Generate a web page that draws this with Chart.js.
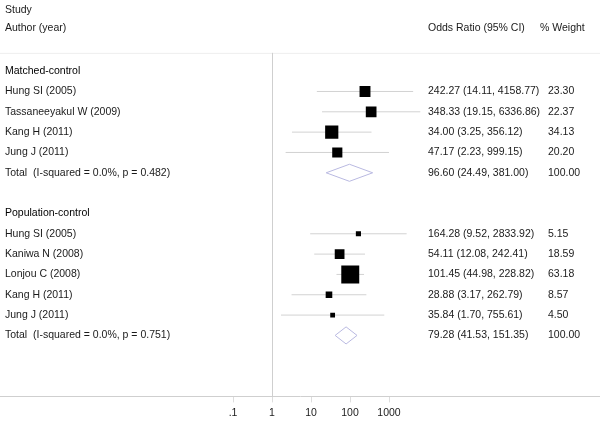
<!DOCTYPE html>
<html>
<head>
<meta charset="utf-8">
<script src="https://cdn.jsdelivr.net/npm/chart.js@4"></script>
<style>
  body { margin: 0; background: #fff; }
  #wrap { width: 600px; height: 425px; }
</style>
</head>
<body>
<div id="wrap"><canvas id="forestChart"></canvas></div>
<script>
// данные из рисунка
const groups = ['Matched-control', 'Population-control'];
const totalLabels = ['Total  (I-squared = 0.0%, p = 0.482)', 'Total  (I-squared = 0.0%, p = 0.751)'];
const studies = ['Hung SI (2005)', 'Tassaneeyakul W (2009)', 'Kang H (2011)', 'Jung J (2011)',
                 'Hung SI (2005)', 'Kaniwa N (2008)', 'Lonjou C (2008)', 'Kang H (2011)', 'Jung J (2011)'];
const studyGroup = [0, 0, 0, 0, 1, 1, 1, 1, 1];
const oddsRatio = [242.27, 348.33, 34.00, 47.17, 164.28, 54.11, 101.45, 28.88, 35.84];
const ciLow = [14.11, 19.15, 3.25, 2.23, 9.52, 12.08, 44.98, 3.17, 1.70];
const ciHigh = [4158.77, 6336.86, 356.12, 999.15, 2833.92, 242.41, 228.82, 262.79, 755.61];
const weights = [23.30, 22.37, 34.13, 20.20, 5.15, 18.59, 63.18, 8.57, 4.50];
const pooledOR = [96.60, 79.28];
const pooledLow = [24.49, 41.53];
const pooledHigh = [381.00, 151.35];
const pooledWeight = [100.00, 100.00];
const xTicks = [0.1, 1, 10, 100, 1000];
const xTickLabels = ['.1', '1', '10', '100', '1000'];

const FONT = '10.5px "Liberation Sans", Arial, sans-serif';
const TEXT = '#1a1a1a';

// раскладка строк: группа, исследования, итог, пустая строка
const studyRow = [];
const groupRow = [];
const totalRow = [];
let row = 0;
groups.forEach((g, gi) => {
    groupRow[gi] = row++;
    studies.forEach((s, i) => { if (studyGroup[i] === gi) studyRow[i] = row++; });
    totalRow[gi] = row++;
    row++;
});

const fmt = v => v.toFixed(2);

const datasets = [];
// квадраты, площадь пропорциональна весу (первым — рисуется поверх)
datasets.push({
    type: 'scatter',
    data: studies.map((s, i) => ({ x: oddsRatio[i], y: studyRow[i] })),
    pointStyle: 'rect',
    pointRadius: weights.map(w => 2.26 * Math.sqrt(w) / Math.SQRT2),
    pointBackgroundColor: '#000',
    pointBorderColor: '#000',
    pointBorderWidth: 0
});
// доверительные интервалы
studies.forEach((s, i) => {
    datasets.push({
        type: 'scatter',
        data: [{ x: ciLow[i], y: studyRow[i] }, { x: ciHigh[i], y: studyRow[i] }],
        showLine: true,
        borderColor: '#d2d2d2',
        borderWidth: 1,
        pointRadius: 0
    });
});
// ромбы для итогов
groups.forEach((g, gi) => {
    const r = totalRow[gi];
    datasets.push({
        type: 'scatter',
        data: [
            { x: pooledLow[gi], y: r },
            { x: pooledOR[gi], y: r - 0.42 },
            { x: pooledHigh[gi], y: r },
            { x: pooledOR[gi], y: r + 0.42 },
            { x: pooledLow[gi], y: r }
        ],
        showLine: true,
        borderColor: 'rgb(185,185,225)',
        borderWidth: 1,
        pointRadius: 0
    });
});

const textPlugin = {
    id: 'forestText',
    beforeDatasetsDraw(chart) {
        const { ctx, chartArea } = chart;
        const x = chart.scales.x, y = chart.scales.y;
        const sep = y.getPixelForValue(-0.9);
        ctx.save();
        ctx.strokeStyle = '#eeeeee';
        ctx.lineWidth = 1;
        ctx.beginPath();
        ctx.moveTo(0, sep + 0.5);
        ctx.lineTo(chart.width, sep + 0.5);
        ctx.stroke();
        const x1 = Math.round(x.getPixelForValue(1)) + 0.5;
        ctx.strokeStyle = '#cfcfcf';
        ctx.beginPath();
        ctx.moveTo(x1, sep);
        ctx.lineTo(x1, chartArea.bottom);
        ctx.stroke();
        ctx.restore();
    },
    afterDraw(chart) {
        const { ctx } = chart;
        const y = chart.scales.y;
        ctx.save();
        ctx.font = FONT;
        ctx.fillStyle = TEXT;
        ctx.textBaseline = 'middle';
        const put = (t, px, r) => ctx.fillText(t, px, y.getPixelForValue(r));
        put('Study', 5, -3.0);
        put('Author (year)', 5, -2.12);
        put('Odds Ratio (95% CI)', 428, -2.12);
        put('% Weight', 540, -2.12);
        groups.forEach((g, gi) => {
            put(totalLabels[gi], 5, totalRow[gi]);
            put(fmt(pooledOR[gi]) + ' (' + fmt(pooledLow[gi]) + ', ' + fmt(pooledHigh[gi]) + ')', 428, totalRow[gi]);
            put(fmt(pooledWeight[gi]), 548, totalRow[gi]);
        });
        studies.forEach((s, i) => {
            put(s, 5, studyRow[i]);
            put(fmt(oddsRatio[i]) + ' (' + fmt(ciLow[i]) + ', ' + fmt(ciHigh[i]) + ')', 428, studyRow[i]);
            put(fmt(weights[i]), 548, studyRow[i]);
        });
        // заголовки групп чуть темнее
        ctx.fillStyle = '#000';
        groups.forEach((g, gi) => put(g, 5, groupRow[gi]));
        ctx.restore();
    }
};

new Chart(document.getElementById('forestChart'), {
    type: 'scatter',
    data: { datasets },
    options: {
        responsive: true,
        maintainAspectRatio: false,
        animation: false,
        events: [],
        layout: { autoPadding: false, padding: { left: 0, right: 0, top: 0, bottom: 2 } },
        plugins: { legend: { display: false }, tooltip: { enabled: false } },
        scales: {
            x: {
                type: 'logarithmic',
                min: 1.06e-7,
                max: 2.57e8,
                afterBuildTicks: axis => { axis.ticks = xTicks.map(v => ({ value: v })); },
                ticks: {
                    autoSkip: false,
                    maxRotation: 0,
                    padding: 4,
                    color: TEXT,
                    font: { family: '"Liberation Sans", Arial, sans-serif', size: 10.5 },
                    callback: (v, i) => xTickLabels[i]
                },
                grid: { drawOnChartArea: false, drawTicks: true, tickLength: 6, color: '#dddddd' },
                border: { display: true, color: '#cfcfcf' }
            },
            y: {
                type: 'linear',
                reverse: true,
                min: -3.5,
                max: 16,
                display: false
            }
        }
    },
    plugins: [textPlugin]
});
</script>
</body>
</html>
